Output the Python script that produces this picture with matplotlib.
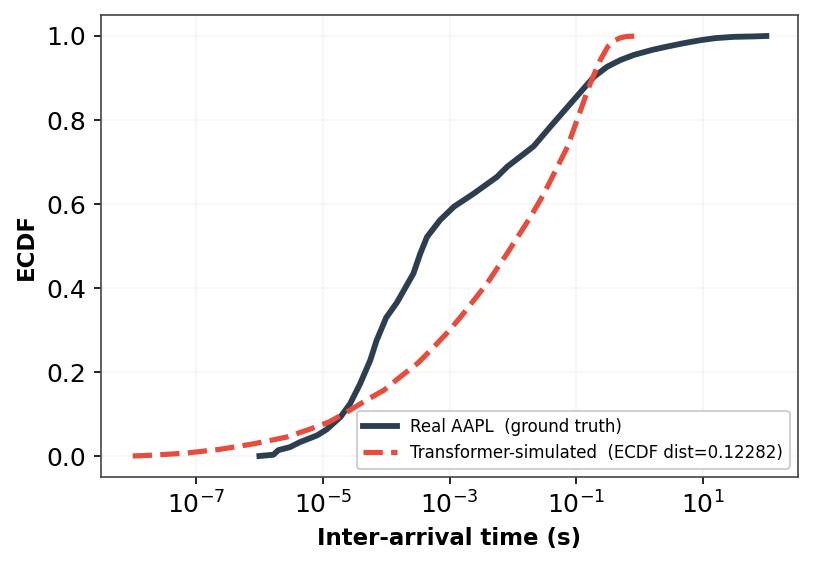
import numpy as np
import matplotlib
matplotlib.use("Agg")
import matplotlib.pyplot as plt

# Real AAPL ECDF (log10 of inter-arrival time, ECDF value)
real_log_x = [-6.0, -5.78, -5.70, -5.52, -5.36, -5.09, -4.94, -4.72, -4.57, -4.41, -4.25,
              -4.15, -4.0, -3.83, -3.57, -3.46, -3.355, -3.15, -2.93, -2.62, -2.25, -2.09,
              -1.78, -1.67, -1.41, -1.04, -0.72, -0.51, -0.30, -0.09, 0.2, 0.44, 0.7, 0.96,
              1.2, 1.49, 1.8, 2.0]
real_ecdf = [0.001, 0.004, 0.015, 0.022, 0.034, 0.05, 0.064, 0.094, 0.125, 0.173, 0.229,
             0.276, 0.33, 0.366, 0.435, 0.483, 0.522, 0.562, 0.594, 0.625, 0.665, 0.689,
             0.725, 0.738, 0.784, 0.848, 0.903, 0.927, 0.943, 0.955, 0.967, 0.975, 0.983, 0.990,
             0.995, 0.998, 0.999, 1.0]

# Transformer-simulated ECDF
sim_log_x = [-8.0, -7.67, -7.15, -6.62, -6.09, -5.57, -5.2, -4.9, -4.57, -4.3, -4.04, -3.78,
             -3.5, -3.25, -3.0, -2.78, -2.41, -2.09, -1.72, -1.51, -1.14, -0.93, -0.78, -0.62,
             -0.5, -0.41, -0.3, -0.2, 0.0]
sim_ecdf = [0.001, 0.003, 0.008, 0.017, 0.03, 0.046, 0.065, 0.082, 0.11, 0.135, 0.157, 0.189,
            0.222, 0.26, 0.30, 0.34, 0.411, 0.483, 0.57, 0.625, 0.736, 0.824, 0.887, 0.943,
            0.975, 0.988, 0.996, 0.999, 1.0]

real_label = "Real AAPL  (ground truth)"
sim_label = "Transformer-simulated  (ECDF dist=0.12282)"

fig = plt.figure(figsize=(813 / 150, 565 / 150), dpi=150)
ax = fig.add_axes([101 / 813, 1 - 477 / 565, (798 - 101) / 813, (477 - 15) / 565])

ax.plot(10 ** np.array(real_log_x), real_ecdf, color="#2c3e50", lw=2.8, label=real_label)
ax.plot(10 ** np.array(sim_log_x), sim_ecdf, color="#e74c3c", lw=2.5, ls="--", label=sim_label)

ax.set_xscale("log")
ax.set_xticks([1e-7, 1e-5, 1e-3, 1e-1, 1e1])
ax.minorticks_off()
ax.grid(True, color="#dddddd", alpha=0.25, lw=0.8)
ax.set_xlabel("Inter-arrival time (s)", fontweight="bold", fontsize=11)
ax.set_ylabel("ECDF", fontweight="bold", fontsize=11)
ax.tick_params(labelsize=12)
for s in ax.spines.values():
    s.set_color("#444444")
ax.legend(loc="lower right", fontsize=8, framealpha=0.9, handlelength=2.0)

fig.savefig("out.png", dpi=150)
